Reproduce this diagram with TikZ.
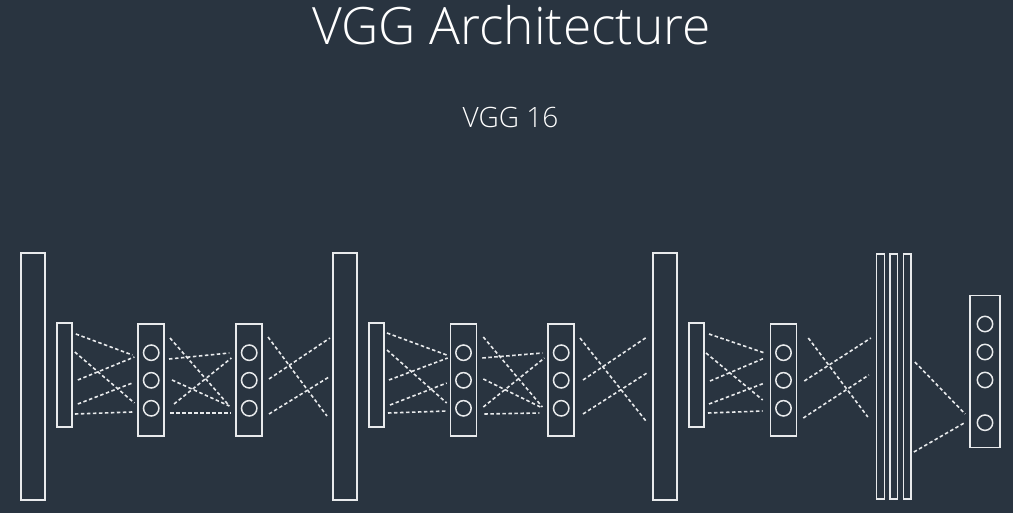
\documentclass[tikz,border=0pt]{standalone}
\usepackage{fontspec}
\setmainfont{Open Sans}
\newfontfamily\lightfont{Open Sans Light}
\usetikzlibrary{calc}
\definecolor{bg}{RGB}{41,52,64}
\definecolor{fg}{RGB}{232,234,236}
\tikzset{
  box/.style={draw=fg, line width=1.6pt, rectangle, inner sep=0pt},
  bigbox/.style={box, minimum width=24.5pt, minimum height=247pt},
  smallbox/.style={box, minimum width=15pt, minimum height=104pt},
  convbox/.style={box, minimum width=26pt, minimum height=112pt},
  fcbox/.style={box, minimum width=7.7pt, minimum height=245pt},
  outbox/.style={box, minimum width=30pt, minimum height=152pt},
  neuron/.style={draw=fg, line width=1.5pt, circle, inner sep=0pt, minimum size=15.4pt},
  dl/.style={draw=fg, line width=1.6pt, dash pattern=on 3.5pt off 2.5pt},
  txt/.style={text=white, inner sep=0pt, anchor=base}
}
\newcommand\dl[6]{\draw[dl] ($(#1.east|-0,#3)+(#2,0)$) -- ($(#4.west|-0,#6)+(#5,0)$);}
\begin{document}
\begin{tikzpicture}[x=1pt,y=-1pt]
\fill[bg] (0,0) rectangle (1013,513);
\useasboundingbox (0,0) rectangle (1013,513);

\node[txt, font=\lightfont\fontsize{51.5}{60}\selectfont] (title) at (511.5,45) {VGG Architecture};
\node[txt, font=\lightfont\fontsize{28}{32}\selectfont] (sub) at (510.5,127.7) {VGG 16};

% big boxes
\node[bigbox] (big1) at (33,376.5) {};
\node[bigbox] (big2) at (345,376.5) {};
\node[bigbox] (big3) at (665,376.5) {};
% small boxes
\node[smallbox] (sb1) at (64.5,375) {};
\node[smallbox] (sb2) at (376.7,375) {};
\node[smallbox] (sb3) at (696.7,375) {};
% conv boxes
\node[convbox] (A) at (151.2,380) {};
\node[convbox] (B) at (249.2,380) {};
\node[convbox] (C) at (463.5,380) {};
\node[convbox] (D) at (561.2,380) {};
\node[convbox] (E) at (783.5,380) {};
\foreach \b in {A,B,C,D,E}{
  \node[neuron] (\b1) at ($(\b.center|-0,352.7)$) {};
  \node[neuron] (\b2) at ($(\b.center|-0,380.3)$) {};
  \node[neuron] (\b3) at ($(\b.center|-0,408.3)$) {};
}
% fc
\node[fcbox] (fc1) at (880.5,376.7) {};
\node[fcbox] (fc2) at (893.7,376.7) {};
\node[fcbox] (fc3) at (907.2,376.7) {};
% output
\node[outbox] (out) at (985,371.5) {};
\node[neuron] (o1) at (985,324) {};
\node[neuron] (o2) at (985,352) {};
\node[neuron] (o3) at (985,380) {};
\node[neuron] (o4) at (985,422.7) {};

% block 1
\dl{sb1}{3}{334}{A}{-5}{355}
\dl{sb1}{2}{352}{A}{-3}{403}
\dl{sb1}{5}{380}{A}{-3}{357}
\dl{sb1}{5}{404}{A}{-5}{383}
\dl{sb1}{2}{414}{A}{-5}{412}
\dl{A}{5}{338}{B}{-6}{406}
\dl{A}{4}{359}{B}{-6}{353}
\dl{A}{7}{380}{B}{-6}{406}
\dl{A}{9}{404}{B}{-4}{358}
\dl{A}{5}{413}{B}{-5}{413}
\dl{B}{5}{337}{big2}{-5}{416}
\dl{B}{6}{379}{big2}{-2}{338}
\dl{B}{6}{414}{big2}{-3}{377}
% block 2
\dl{sb2}{2}{333}{C}{-3}{355}
\dl{sb2}{2}{350}{C}{-3}{403}
\dl{sb2}{4}{380}{C}{-2}{358}
\dl{sb2}{5}{405}{C}{-3}{383}
\dl{sb2}{3}{413}{C}{-3}{411}
\dl{C}{6}{337}{D}{-5}{407}
\dl{C}{5}{358}{D}{-5}{353}
\dl{C}{6}{379}{D}{-5}{408}
\dl{C}{6}{407}{D}{-3}{358}
\dl{C}{7}{414}{D}{-8}{413}
\dl{D}{5}{338}{big3}{-6}{421}
\dl{D}{8}{380}{big3}{-5}{337}
\dl{D}{8}{414}{big3}{-5}{373}
% block 3
\dl{sb3}{4}{334}{E}{-5}{353}
\dl{sb3}{1}{353}{E}{-7}{400}
\dl{sb3}{5}{381}{E}{-5}{358}
\dl{sb3}{4}{404}{E}{-5}{383}
\dl{sb3}{3}{413}{E}{-7}{411}
\dl{E}{11}{338}{fc1}{-8}{417}
\dl{E}{7}{381}{fc1}{-5}{338}
\dl{E}{6}{418}{fc1}{-7}{375}
\dl{fc3}{3}{362}{out}{-4}{414}
\dl{fc3}{2}{452}{out}{-5}{423}
\end{tikzpicture}
\end{document}
